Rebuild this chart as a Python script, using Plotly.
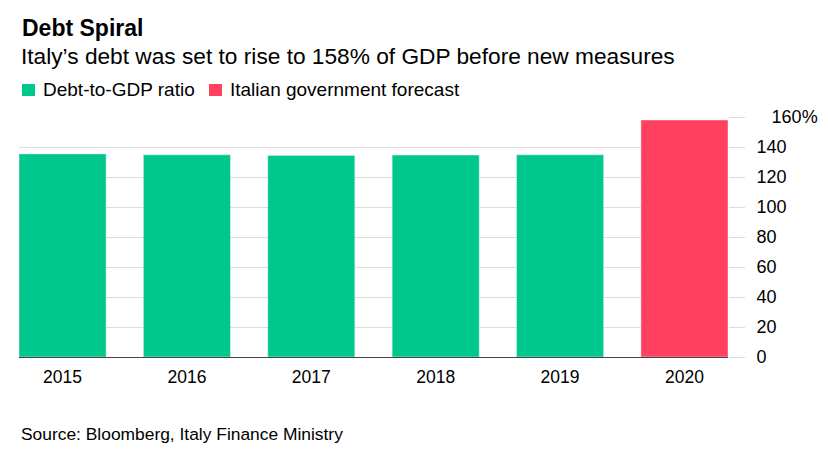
import plotly.graph_objects as go

years = ["2015", "2016", "2017", "2018", "2019", "2020"]
debt_ratio = [135.4, 134.8, 134.4, 134.6, 134.8, None]
forecast = [None, None, None, None, None, 158.0]
y_ticks = [0, 20, 40, 60, 80, 100, 120, 140, 160]
y_tick_labels = ["0", "20", "40", "60", "80", "100", "120", "140", "\u00a0\u00a0\u00a0160%"]

GREEN = "#00c78b"
RED = "#ff405f"
FONT = "Liberation Sans, Arial, Helvetica, sans-serif"

# page body has an 8px default margin; work in page pixels and offset
OFF = 8
W, H = 828 - OFF, 450 - OFF
L, R, T, B = 19 - OFF, 100, 117 - OFF, 93
pw, ph = W - L - R, H - T - B

def px_x(px):
    return (px - OFF - L) / pw

def px_y(py):
    return (H - B - (py - OFF)) / ph

fig = go.Figure()
fig.add_bar(x=years, y=debt_ratio, marker_color=GREEN, name="Debt-to-GDP ratio", showlegend=False)
fig.add_bar(x=years, y=forecast, marker_color=RED, name="Italian government forecast", showlegend=False)

fig.update_layout(
    width=W, height=H,
    margin=dict(l=L, r=R, t=T, b=B),
    paper_bgcolor="white", plot_bgcolor="white",
    barmode="overlay", bargap=0.3,
    font=dict(family=FONT, color="#000"),
    xaxis=dict(
        type="category", range=[-0.35, 5.35],
        showgrid=False, zeroline=False,
        showline=True, linecolor="#444", linewidth=1,
        ticks="", tickfont=dict(size=17.5, color="#000"),
        ticklabelstandoff=4,
    ),
    yaxis=dict(
        range=[0, 160], side="right",
        tickvals=y_ticks, ticktext=y_tick_labels,
        showgrid=True, gridcolor="#dcdcdc", gridwidth=1,
        zeroline=False, showline=False,
        ticks="outside", ticklen=16, tickcolor="#dcdcdc", tickwidth=1,
        tickfont=dict(size=18, color="#000"),
        ticklabelstandoff=8,
    ),
)

annotations = [
    dict(text="<b>Debt Spiral</b>", x=px_x(20), y=px_y(28), font=dict(size=23, color="#000")),
    dict(text="Italy’s debt was set to rise to 158% of GDP before new measures", x=px_x(19), y=px_y(56.5), font=dict(size=22.7, color="#000")),
    dict(text="Debt-to-GDP ratio", x=px_x(41), y=px_y(89.5), font=dict(size=19, color="#000")),
    dict(text="Italian government forecast", x=px_x(228), y=px_y(89.5), font=dict(size=19, color="#000")),
    dict(text="Source: Bloomberg, Italy Finance Ministry", x=px_x(19), y=px_y(434), font=dict(size=17.4, color="#000")),
]
for a in annotations:
    fig.add_annotation(xref="paper", yref="paper", xanchor="left", yanchor="middle",
                       showarrow=False, align="left", **a)

for x0, color in [(22, GREEN), (209, RED)]:
    fig.add_shape(type="rect", xref="paper", yref="paper",
                  x0=px_x(x0), x1=px_x(x0 + 13), y0=px_y(96), y1=px_y(84),
                  fillcolor=color, line=dict(width=0))

fig.write_html("out.html")
